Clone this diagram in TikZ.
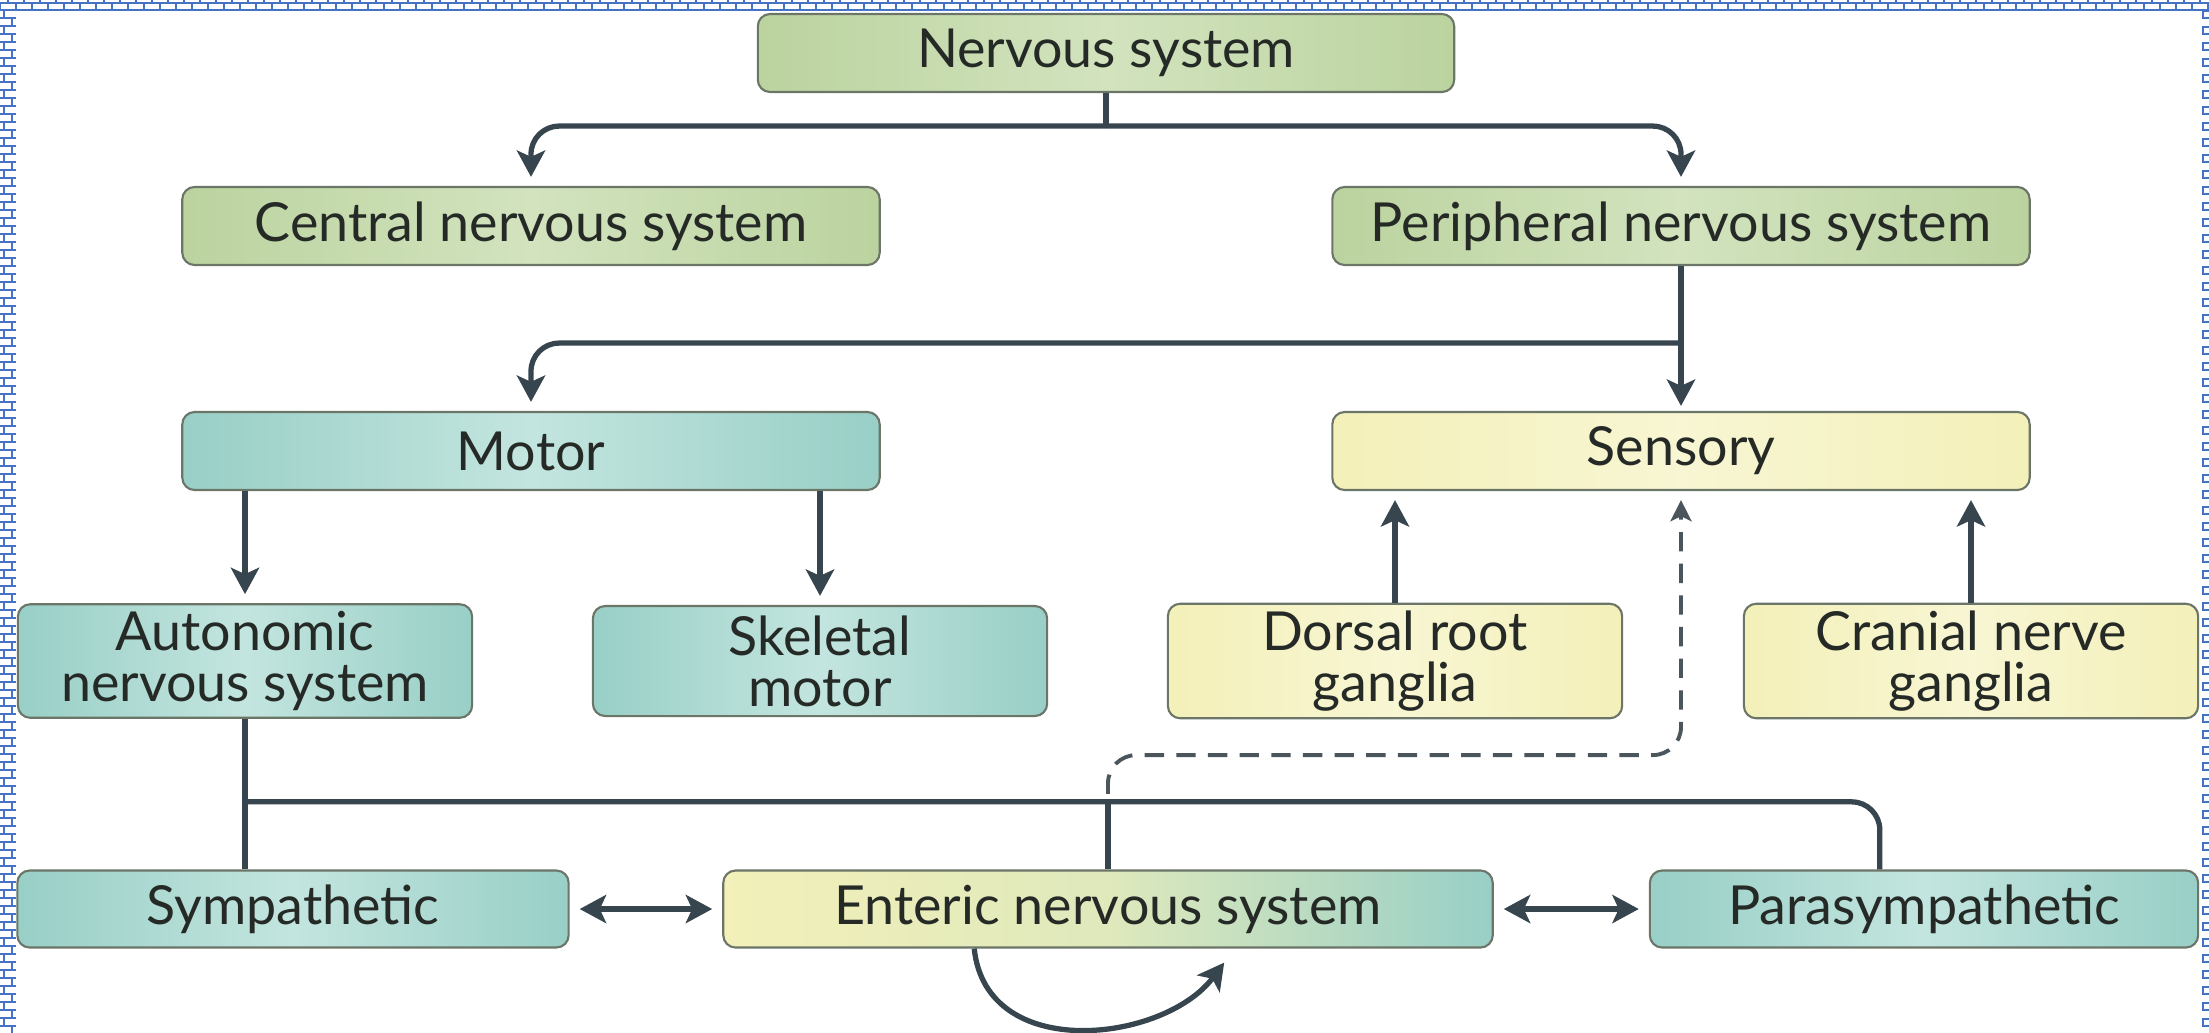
\documentclass[tikz,border=0pt]{standalone}
\usepackage{fontspec}
\setmainfont{Lato}
\usetikzlibrary{arrows.meta,calc}
\definecolor{cGreen}{HTML}{BBD39F}
\definecolor{cGreenHi}{HTML}{D2E3BE}
\definecolor{cTeal}{HTML}{98CFC6}
\definecolor{cTealHi}{HTML}{C3E5DF}
\definecolor{cYellow}{HTML}{F3F0B9}
\definecolor{cYellowHi}{HTML}{F8F6D3}
\definecolor{cEdge}{HTML}{6B7568}
\definecolor{cLine}{HTML}{37454E}
\definecolor{cDash}{HTML}{4A555C}
\definecolor{cInk}{HTML}{252A26}
\definecolor{cFrame}{HTML}{4472C4}

\begin{document}
\begin{tikzpicture}[
  x=0.01cm, y=-0.01cm,
  font=\fontsize{15.3}{14.5}\selectfont,
  blk/.style 2 args={draw=cEdge, line width=.6pt, rounded corners=3.5pt,
                     left color=#1, right color=#1, middle color=#2,
                     text=cInk, align=center, inner sep=2pt},
  wide/.style={minimum width=6.97cm, minimum height=0.78cm},
  half/.style={minimum width=4.54cm, minimum height=1.10cm},
  wire/.style={line width=1.5pt, draw=cLine},
  tip/.style={-{Stealth[length=7.5pt,width=8pt,inset=1.8pt]}},
  flow/.style={wire, tip, shorten >=0.09cm},
  route/.style={flow, rounded corners=8pt},
  both/.style={wire, {Stealth[length=7.5pt,width=8pt,inset=1.8pt]}-{Stealth[length=7.5pt,width=8pt,inset=1.8pt]},
               shorten >=0.1cm, shorten <=0.1cm},
  selfarc/.style={wire, tip},
  hint/.style={line width=1.1pt, draw=cDash, dash pattern=on 5.5pt off 3.5pt,
               rounded corners=8pt, -{Stealth[length=6pt,width=6pt,inset=1.4pt]},
               shorten >=0.09cm},
  frame/.style={draw=cFrame, line width=.6pt},
]
\useasboundingbox (0,0) rectangle (2209,1032);

% ---------------- page frame ----------------
\draw[frame] (0,3) -- (2209,3);
\draw[frame] (0,10) -- (2209,10);
\foreach \k in {0,...,138}{
  \draw[frame] (16*\k,3) -- (16*\k,10);
  \draw[frame] (16*\k+8,0) -- (16*\k+8,3);}
\foreach \j in {0,...,127}{
  \draw[frame] (0,10+8*\j) -- (16,10+8*\j);}
\foreach \j in {0,2,...,126}{
  \draw[frame] (4,10+8*\j) -- (4,18+8*\j);
  \draw[frame] (12,18+8*\j) -- (12,26+8*\j);}
\foreach \k in {0,...,63}{
  \draw[frame] (2209,11+16*\k) -- (2203,11+16*\k) -- (2203,18+16*\k) -- (2209,18+16*\k);}

% ---------------- top levels ----------------
\node[blk={cGreen}{cGreenHi}, minimum width=6.96cm, minimum height=0.78cm] (ns) at (1106,53)
  {Nervous system};
\node[blk={cGreen}{cGreenHi}, wide] (cns) at (531,226) {Central nervous system};
\node[blk={cGreen}{cGreenHi}, wide] (pns) at (1681,226) {Peripheral nervous system};

\node[blk={cTeal}{cTealHi}, wide] (motor) at (531,451) {Motor};
\node[blk={cYellow}{cYellowHi}, wide] (sens) at (1681,451) {Sensory};

% ---------------- ganglia and divisions ----------------
\node[blk={cTeal}{cTealHi}, half] (auto) at (245,661) {Autonomic\\nervous system};
\node[blk={cTeal}{cTealHi}, half] (skel) at (820,661) {Skeletal\\motor};
\node[blk={cYellow}{cYellowHi}, half] (dorsal) at (1395,661) {Dorsal root\\ganglia};
\node[blk={cYellow}{cYellowHi}, half] (cranial) at (1971,661) {Cranial nerve\\ganglia};

\node[blk={cTeal}{cTealHi}, minimum width=5.51cm, minimum height=0.77cm] (symp) at (293,909)
  {Sympathetic};
\node[blk={cYellow}{cYellowHi}, left color=cYellow, right color=cTeal,
      middle color=cYellow!78!cTeal, minimum width=7.69cm, minimum height=0.77cm] (ent) at (1108,909)
  {Enteric nervous system};
\node[blk={cTeal}{cTealHi}, minimum width=5.48cm, minimum height=0.77cm] (para) at (1924,909)
  {Parasympathetic};

% ---------------- connectors ----------------
\coordinate (nsj) at ($(ns.south)+(0,33)$);
\draw[wire] (ns.south) -- (nsj);
\draw[route] (nsj) -| (cns.north);
\draw[route] (nsj) -| (pns.north);

\coordinate (pnsj) at ($(pns.south)+(0,77)$);
\draw[flow, shorten >=0.05cm] (pns.south) -- (sens.north);
\draw[route] (pnsj) -| (motor.north);

\draw[flow] (motor.south -| auto.north) -- (auto.north);
\draw[flow] (motor.south -| skel.north) -- (skel.north);
\draw[flow] (dorsal.north) -- (dorsal.north |- sens.south);
\draw[flow] (cranial.north) -- (cranial.north |- sens.south);

\coordinate (ansj) at ($(auto.south)+(0,83)$);
\coordinate (paratop) at ($(para.north west)+(231,0)$);
\coordinate (entj) at (ent.north |- ansj);
\draw[wire] (auto.south) -- (auto.south |- symp.north);
\draw[wire, rounded corners=8pt] (ansj) -| (paratop);
\draw[wire] (ent.north) -- (entj);

\coordinate (dsh) at ($(sens.south)+(0,264)$);
\draw[hint] ($(entj)+(0,-8)$) |- (dsh) -- (sens.south);

\draw[both] (symp.east) -- (ent.west);
\draw[both] (ent.east) -- (para.west);

\draw[selfarc] ($(ent.south west)+(252,0)$) .. controls +(12,115) and +(-60,80)
  .. ($(ent.south west)+(502,14)$);

\end{tikzpicture}
\end{document}
